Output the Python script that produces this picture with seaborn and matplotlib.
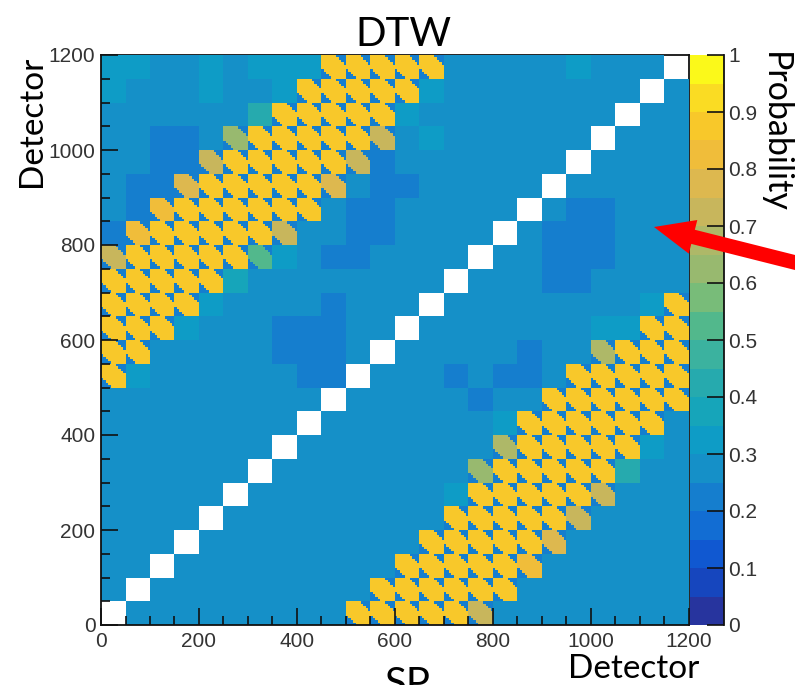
import numpy as np
import matplotlib
matplotlib.use("Agg")
import matplotlib.pyplot as plt
from matplotlib.ticker import FixedLocator, FixedFormatter
import seaborn as sns
from matplotlib.colors import ListedColormap
from matplotlib.patches import FancyArrowPatch
from matplotlib.transforms import IdentityTransform

W = -1  # detector pair left empty (white)
# mean probability x100 in each 50x50 block, top row (1150-1200) first
block_percent = [
 [30,30,27,27,30,27,30,30,32,87,87,87,87,87,27,27,27,27,27,30,27,27,27,W],
 [32,27,27,27,30,27,27,32,87,87,87,87,87,32,27,27,27,27,27,27,27,27,W,27],
 [27,27,27,27,27,27,40,87,87,87,87,87,32,27,27,27,27,27,27,27,27,W,27,27],
 [27,27,22,22,27,62,87,87,87,87,87,72,27,32,27,27,27,27,27,27,W,27,27,27],
 [27,27,22,22,72,87,87,87,87,87,72,22,27,27,27,27,27,27,27,W,27,27,27,27],
 [27,22,22,75,87,87,87,87,87,78,27,22,22,27,27,27,27,27,W,27,27,27,27,27],
 [27,22,80,87,87,87,87,87,85,27,22,22,27,27,27,27,27,W,27,22,22,27,27,27],
 [22,80,87,87,87,87,87,70,27,27,22,22,27,27,27,27,W,27,22,22,22,27,27,27],
 [70,87,87,87,87,87,50,32,27,22,22,27,27,27,27,W,27,27,22,22,22,27,27,27],
 [87,87,87,87,87,38,27,27,27,27,27,27,27,27,W,27,27,27,22,22,27,27,27,27],
 [87,87,87,87,32,27,27,27,27,22,27,27,27,W,27,27,27,27,27,27,27,27,32,87],
 [87,87,87,30,27,27,27,22,22,22,27,27,W,27,27,27,27,27,27,27,32,32,87,87],
 [87,87,27,27,27,27,27,22,22,22,27,W,27,27,27,27,27,22,27,27,68,87,87,87],
 [87,30,27,27,27,27,27,27,22,22,W,27,27,27,22,27,22,22,27,87,87,87,87,87],
 [27,27,27,27,27,27,27,27,27,W,27,27,27,27,27,22,27,27,87,87,87,87,87,87],
 [27,27,27,27,27,27,27,27,W,27,27,27,27,27,27,27,30,87,87,87,87,87,87,27],
 [27,27,27,27,27,27,27,W,27,27,27,27,27,27,27,27,65,87,87,87,87,87,32,27],
 [27,27,27,27,27,27,W,27,27,27,27,27,27,27,27,62,87,87,87,87,87,40,27,27],
 [27,27,27,27,27,W,27,27,27,27,27,27,27,27,30,87,87,87,87,87,70,27,27,27],
 [27,27,27,27,W,27,27,27,27,27,27,27,27,27,87,87,87,87,87,70,27,27,27,27],
 [27,27,27,W,27,27,27,27,27,27,27,27,27,87,87,87,87,87,75,27,27,27,27,27],
 [27,27,W,27,27,27,27,27,27,27,27,27,87,87,87,87,87,80,27,27,27,27,27,27],
 [27,W,27,27,27,27,27,27,27,27,27,87,87,87,87,87,87,27,27,27,27,27,27,27],
 [W,27,27,27,27,27,27,27,27,27,87,87,87,87,87,72,27,27,27,27,27,27,27,27],
]
# shape of a high-probability block, top row first; 0 marks the low corners
block_shape = [
 [1,1,1,1,1,1,0,0,0,0],
 [1,1,1,1,1,1,1,0,0,0],
 [1,1,1,1,1,1,1,1,0,0],
 [1,1,1,1,1,1,1,1,1,0],
 [1,1,1,1,1,1,1,1,1,1],
 [1,1,1,1,1,1,1,1,1,1],
 [0,1,1,1,1,1,1,1,1,1],
 [0,0,1,1,1,1,1,1,1,1],
 [0,0,0,1,1,1,1,1,1,1],
 [0,0,0,0,1,1,1,1,1,1],
]
corner_percent = 22
palette = ["#27349E","#1646BE","#1058D1","#126DD3","#157ECE","#1590C8","#0E9CC6",
           "#16A5BA","#26AAAE","#3BB29F","#52B88C","#78BC79","#98B96F","#AEB868",
           "#C8B65C","#DDB84F","#F0BD3A","#F8C82A","#FADC23","#FBF91A"]
axis_ticks = [0, 200, 400, 600, 800, 1000, 1200]
minor_ticks = [v for v in range(0, 1201, 50) if v % 200]
cbar_ticks = [0, .1, .2, .3, .4, .5, .6, .7, .8, .9, 1]
cbar_labels = ["0", "0.1", "0.2", "0.3", "0.4", "0.5", "0.6", "0.7", "0.8", "0.9", "1"]

sns.set_theme(style="white")
plt.rcParams["font.family"] = ["Liberation Sans"]

levels = np.array(block_percent, dtype=float)[::-1] / 100   # row 0 = bottom
shape = np.array(block_shape, dtype=float)[::-1]
sub = shape.shape[0]
field = np.kron(levels, np.ones_like(shape))
hot = np.kron(levels > 0.45, shape == 0).astype(bool)
field[hot] = corner_percent / 100
bin_size = 50 / sub

FW, FH = 795, 685
fig = plt.figure(figsize=(FW / 100, FH / 100), dpi=100)
ax = fig.add_axes([101 / FW, 1 - 625 / FH, 588 / FW, 570 / FH])
cax = fig.add_axes([690 / FW, 1 - 625 / FH, 34 / FW, 570 / FH])

sns.heatmap(field, ax=ax, cbar_ax=cax, vmin=0, vmax=1, mask=field < 0,
            cmap=ListedColormap(palette), xticklabels=False, yticklabels=False,
            cbar_kws={"ticks": cbar_ticks})
ax.invert_yaxis()
ax.set_axisbelow(False)
cax.set_axisbelow(False)

ink = "#111111"; label_ink = "#333333"
for a in (ax.xaxis, ax.yaxis):
    a.set_major_locator(FixedLocator([v / bin_size for v in axis_ticks]))
    a.set_major_formatter(FixedFormatter([str(v) for v in axis_ticks]))
    a.set_minor_locator(FixedLocator([v / bin_size for v in minor_ticks]))
ax.tick_params(which="major", direction="in", length=12.5, width=1.2, color=ink,
               labelsize=15, labelcolor=label_ink, bottom=True, left=True)
ax.tick_params(which="minor", direction="in", length=6.5, width=1.2, color=ink,
               bottom=True, left=True)
ax.tick_params(axis="x", which="major", pad=5, labelrotation=0)
ax.tick_params(axis="y", which="major", pad=4, labelrotation=0)
for name, sp in ax.spines.items():
    sp.set_visible(True); sp.set_color(ink); sp.set_linewidth(1.3)
    if name in ("top", "right"):
        sp.set_zorder(0.5)

cax.tick_params(which="both", direction="in", length=12.5, width=1.2, color=ink, right=True,
                labelsize=15, labelcolor=label_ink, pad=3)
cax.set_yticks(cbar_ticks); cax.set_yticklabels(cbar_labels)
cax.minorticks_off()
cax.spines["right"].set_visible(True); cax.spines["right"].set_color(ink)
cax.spines["right"].set_linewidth(1.3)

hand = ["Lato", "DejaVu Sans"]
def px_text(x, y, s, size, **kw):
    fig.text(x / FW, 1 - y / FH, s, fontsize=size, family=hand, color="black", **kw)

px_text(403, 34, "DTW", 29, ha="center", va="center")
px_text(32, 121, "Detector", 24, ha="center", va="center", rotation=90)
px_text(775, 132, "Probability", 24.5, ha="center", va="center", rotation=-90)
px_text(634, 678, "Detector", 24, ha="center", va="baseline")
px_text(408, 696, "SP", 29, ha="center", va="baseline")

arrow = FancyArrowPatch((FW + 2, FH - 263), (654, FH - 227), transform=IdentityTransform(),
                        arrowstyle="simple,head_length=29,head_width=25,tail_width=10.5",
                        mutation_scale=1, color="#FF0000", lw=0, shrinkA=0, shrinkB=0)
fig.add_artist(arrow)

fig.savefig("out.png", dpi=100)
